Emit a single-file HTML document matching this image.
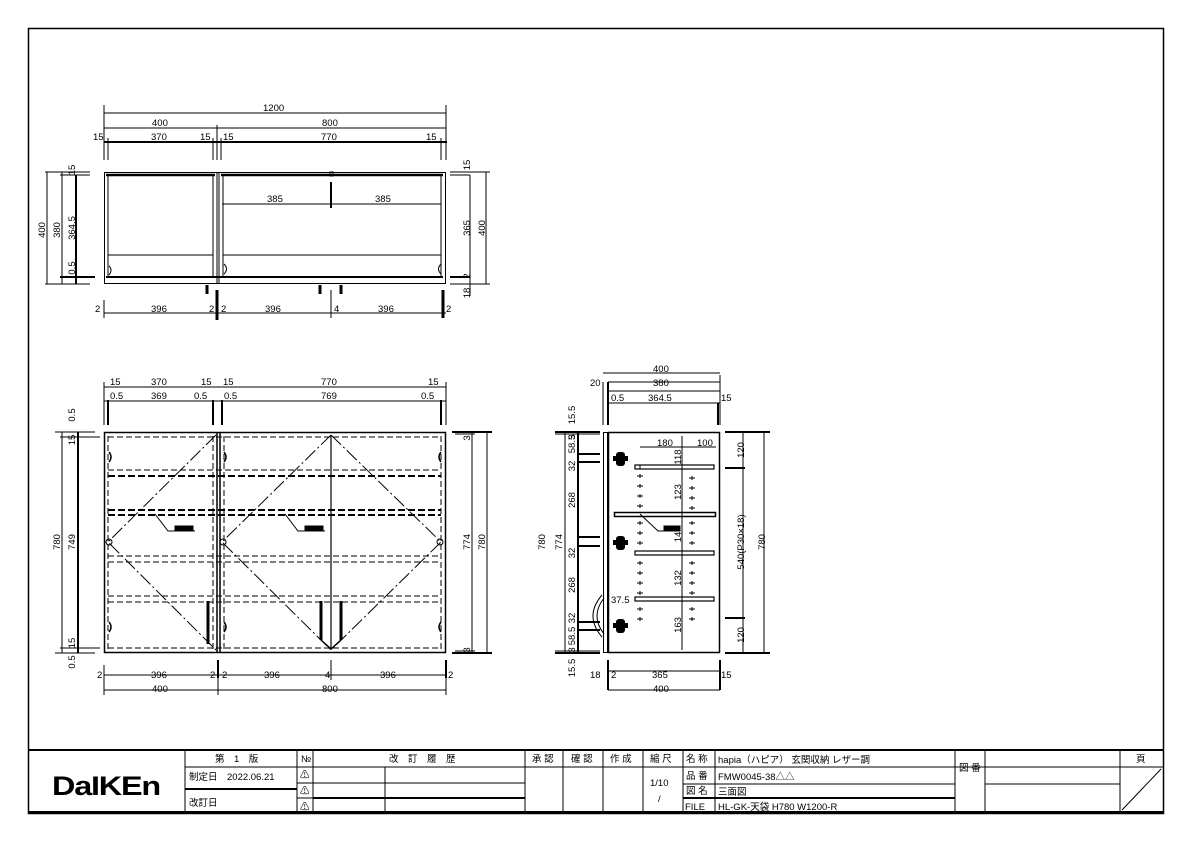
<!DOCTYPE html>
<html><head><meta charset="utf-8"><style>
html,body{margin:0;padding:0;background:#fff}
svg{display:block}
text{font-family:"Liberation Sans","Noto Sans CJK JP",sans-serif;font-size:9.5px;fill:#000}
.t{font-size:10px}
</style></head><body>
<svg width="1191" height="842" viewBox="0 0 1191 842" xmlns="http://www.w3.org/2000/svg">
<rect x="0" y="0" width="1191" height="842" fill="#fff"/>
<g stroke="#000" fill="none">
<!-- border -->
<rect x="28.5" y="28.5" width="1135" height="785" stroke-width="1.5"/>
<!-- title block -->
<line x1="28" y1="750" x2="1163" y2="750" stroke-width="2"/>
<line x1="28" y1="812" x2="1163" y2="812" stroke-width="2"/>
<g stroke-width="1">
<line x1="185" y1="750" x2="185" y2="813"/>
<line x1="297" y1="750" x2="297" y2="813"/>
<line x1="313" y1="750" x2="313" y2="813"/>
<line x1="525" y1="750" x2="525" y2="813"/>
<line x1="563" y1="750" x2="563" y2="813"/>
<line x1="603" y1="750" x2="603" y2="813"/>
<line x1="643" y1="750" x2="643" y2="813"/>
<line x1="683" y1="750" x2="683" y2="813"/>
<line x1="715" y1="750" x2="715" y2="813"/>
<line x1="955" y1="750" x2="955" y2="813"/>
<line x1="985" y1="750" x2="985" y2="813"/>
<line x1="1120" y1="750" x2="1120" y2="813"/>
<line x1="185" y1="767" x2="1163" y2="767"/>
<line x1="313" y1="783" x2="525" y2="783"/>
<line x1="683" y1="784" x2="955" y2="784"/>
<line x1="985" y1="784" x2="1120" y2="784"/>
<line x1="385" y1="767" x2="385" y2="813"/>
<line x1="1122" y1="810" x2="1161" y2="769"/>
</g>
<line x1="185" y1="789" x2="297" y2="789" stroke-width="2"/>
<line x1="297" y1="783" x2="313" y2="783"/>
<line x1="313" y1="798" x2="525" y2="798" stroke-width="2"/>
<line x1="297" y1="798" x2="313" y2="798"/>
<line x1="683" y1="798" x2="955" y2="798" stroke-width="2"/>

<!-- ============ TOP PLAN VIEW ============ -->
<g stroke-width="1">
<rect x="104.5" y="172.5" width="341" height="111"/>
<line x1="108" y1="175" x2="108" y2="277"/>
<line x1="213" y1="175" x2="213" y2="277"/>
<line x1="217" y1="172" x2="217" y2="284"/>
<line x1="219" y1="172" x2="219" y2="284"/>
<line x1="223" y1="175" x2="223" y2="277"/>
<line x1="441" y1="175" x2="441" y2="277"/>
<line x1="108" y1="255" x2="213" y2="255"/>
<line x1="223" y1="255" x2="441" y2="255"/>
<line x1="222" y1="204" x2="441" y2="204"/>
</g>
<line x1="106" y1="175" x2="215" y2="175" stroke-width="2.5"/>
<line x1="221" y1="175" x2="443" y2="175" stroke-width="2.5"/>
<line x1="106" y1="277" x2="443" y2="277" stroke-width="2"/>
<line x1="331" y1="182" x2="331" y2="208" stroke-width="2"/>
<rect x="330" y="172" width="3" height="4"/>
<path d="M109 266 q4 4 0 9 M224 264 q5 5 0 10 M441 264 q-5 5 0 10"/>
<g stroke-width="3">
<line x1="207" y1="285" x2="207" y2="294"/>
<line x1="320" y1="285" x2="320" y2="294"/>
<line x1="341" y1="285" x2="341" y2="294"/>
<line x1="217" y1="290" x2="217" y2="320"/>
<line x1="443" y1="290" x2="443" y2="318"/>
</g>
<!-- top dims -->
<g stroke-width="1">
<line x1="104" y1="113" x2="446" y2="113"/>
<line x1="104" y1="128" x2="446" y2="128"/>
<line x1="104" y1="105" x2="104" y2="160"/>
<line x1="446" y1="105" x2="446" y2="160"/>
<line x1="217" y1="125" x2="217" y2="160"/>
<line x1="108" y1="138" x2="108" y2="160"/>
<line x1="213" y1="138" x2="213" y2="160"/>
<line x1="221" y1="138" x2="221" y2="160"/>
<line x1="441" y1="138" x2="441" y2="160"/>
<line x1="104" y1="313" x2="446" y2="313"/>
<line x1="104" y1="300" x2="104" y2="318"/>
<line x1="331" y1="290" x2="331" y2="318"/>
<!-- left dims -->
<line x1="47" y1="172" x2="47" y2="284"/>
<line x1="62" y1="172" x2="62" y2="284"/>
<line x1="45" y1="172" x2="90" y2="172"/>
<line x1="45" y1="284" x2="90" y2="284"/>
<line x1="450" y1="172" x2="490" y2="172"/>
<line x1="450" y1="284" x2="490" y2="284"/>
<line x1="470" y1="175" x2="470" y2="296"/>
<line x1="486" y1="172" x2="486" y2="284"/>
</g>
<line x1="104" y1="142" x2="447" y2="142" stroke-width="2"/>
<line x1="76" y1="175" x2="76" y2="284" stroke-width="2"/>
<line x1="60" y1="175" x2="90" y2="175" stroke-width="1"/>
<line x1="60" y1="277" x2="95" y2="277" stroke-width="2"/>
<line x1="450" y1="175" x2="470" y2="175" stroke-width="1"/>
<line x1="450" y1="277" x2="470" y2="277" stroke-width="2"/>

<!-- ============ FRONT VIEW ============ -->
<rect x="104.5" y="432.5" width="341" height="220" stroke-width="1.5"/>
<line x1="217" y1="432" x2="217" y2="653" stroke-width="1.5"/>
<line x1="220" y1="432" x2="220" y2="653" stroke-width="1.5"/>
<line x1="331" y1="436" x2="331" y2="650" stroke-width="1.2"/>
<g stroke-width="1" stroke-dasharray="6,3">
<line x1="108" y1="436" x2="108" y2="650"/>
<line x1="213" y1="436" x2="213" y2="650"/>
<line x1="224" y1="436" x2="224" y2="650"/>
<line x1="441" y1="436" x2="441" y2="650"/>
<line x1="108" y1="437" x2="441" y2="437"/>
<line x1="108" y1="648" x2="441" y2="648"/>
<line x1="108" y1="470" x2="441" y2="470"/>
<line x1="108" y1="556" x2="441" y2="556"/>
<line x1="108" y1="562" x2="441" y2="562"/>
<line x1="108" y1="596" x2="441" y2="596"/>
<line x1="108" y1="602" x2="441" y2="602"/>
</g>
<g stroke-width="2" stroke-dasharray="7,3">
<line x1="108" y1="476" x2="441" y2="476"/>
<line x1="108" y1="510" x2="441" y2="510"/>
<line x1="108" y1="515" x2="441" y2="515"/>
</g>
<g stroke-width="1" stroke-dasharray="14,3,2,3">
<polyline points="216,435 108,542 216,650"/>
<polyline points="331,435 222,542 331,650"/>
<polyline points="331,435 441,542 331,650"/>
</g>
<circle cx="109" cy="542" r="3"/><circle cx="223" cy="542" r="3"/><circle cx="440" cy="542" r="3"/>
<g stroke-width="3">
<line x1="208" y1="601" x2="208" y2="644"/>
<line x1="321" y1="601" x2="321" y2="640"/>
<line x1="341" y1="601" x2="341" y2="640"/>
</g>
<path d="M321 640 l10 9 l10 -9" stroke-width="1.5"/>
<path d="M109 452 q4 5 0 10 M109 622 q4 5 0 10 M224 452 q4 5 0 10 M224 622 q4 5 0 10 M441 452 q-4 5 0 10 M441 622 q-4 5 0 10" stroke-width="1.5"/>
<polyline points="155,514 168,531 195,531" stroke-width="1"/>
<rect x="175" y="526" width="18" height="5" fill="#000"/>
<polyline points="285,514 298,531 325,531" stroke-width="1"/>
<rect x="305" y="526" width="18" height="5" fill="#000"/>
<!-- front dims -->
<g stroke-width="1">
<line x1="104" y1="387" x2="446" y2="387"/>
<line x1="104" y1="401" x2="446" y2="401"/>
<line x1="104" y1="382" x2="104" y2="425"/>
<line x1="446" y1="382" x2="446" y2="425"/>
<line x1="104" y1="675" x2="446" y2="675"/>
<line x1="104" y1="690" x2="446" y2="690"/>
<line x1="104" y1="665" x2="104" y2="695"/>
<line x1="446" y1="665" x2="446" y2="695"/>
<line x1="218" y1="665" x2="218" y2="695"/>
<line x1="331" y1="660" x2="331" y2="680"/>
<line x1="62" y1="432" x2="62" y2="653"/>
<line x1="78" y1="432" x2="78" y2="653"/>
<line x1="55" y1="432" x2="95" y2="432"/>
<line x1="55" y1="653" x2="95" y2="653"/>
<line x1="60" y1="437" x2="100" y2="437"/>
<line x1="60" y1="648" x2="100" y2="648"/>
<line x1="472" y1="432" x2="472" y2="653"/>
<line x1="487" y1="432" x2="487" y2="653"/>
<line x1="455" y1="434" x2="475" y2="434"/>
<line x1="455" y1="651" x2="475" y2="651"/>
</g>
<g stroke-width="2">
<line x1="108" y1="400" x2="108" y2="425"/>
<line x1="213" y1="400" x2="213" y2="425"/>
<line x1="222" y1="400" x2="222" y2="425"/>
<line x1="441" y1="400" x2="441" y2="425"/>
<line x1="78" y1="432" x2="78" y2="653"/>
<line x1="452" y1="432" x2="492" y2="432"/>
<line x1="452" y1="653" x2="492" y2="653"/>
<line x1="218" y1="660" x2="218" y2="678"/>
<line x1="446" y1="660" x2="446" y2="678"/>
</g>

<!-- ============ SIDE VIEW ============ -->
<rect x="603.5" y="432.5" width="4" height="220" stroke-width="1"/>
<rect x="608.5" y="432.5" width="111" height="220" stroke-width="1.5"/>
<g stroke-width="1">
<line x1="682" y1="436" x2="682" y2="650"/>
<line x1="640" y1="447" x2="716" y2="447"/>
<line x1="603" y1="382" x2="603" y2="425"/>
<line x1="720" y1="375" x2="720" y2="425"/>
<line x1="608" y1="382" x2="720" y2="382"/>
<line x1="608" y1="391" x2="720" y2="391"/>
<line x1="608" y1="403" x2="720" y2="403"/>
<line x1="608" y1="671" x2="720" y2="671"/>
<line x1="608" y1="690" x2="720" y2="690"/>
<line x1="603" y1="373" x2="720" y2="373"/>
<line x1="743" y1="432" x2="743" y2="653"/>
<line x1="764" y1="432" x2="764" y2="653"/>
<line x1="565" y1="432" x2="565" y2="653"/>
<line x1="578" y1="432" x2="578" y2="653"/>
<line x1="555" y1="434" x2="600" y2="434"/>
<line x1="555" y1="651" x2="600" y2="651"/>
<path d="M604 598 q-14 18 0 36" />
<path d="M602 595 q-18 21 0 42" />
</g>
<g stroke-width="2">
<line x1="555" y1="432" x2="600" y2="432"/>
<line x1="555" y1="653" x2="600" y2="653"/>
<line x1="725" y1="432" x2="770" y2="432"/>
<line x1="725" y1="653" x2="770" y2="653"/>
<line x1="725" y1="468" x2="745" y2="468"/>
<line x1="725" y1="618" x2="745" y2="618"/>
<line x1="578" y1="432" x2="578" y2="653"/>
<line x1="578" y1="454" x2="600" y2="454"/>
<line x1="578" y1="462" x2="600" y2="462"/>
<line x1="578" y1="537" x2="600" y2="537"/>
<line x1="578" y1="546" x2="600" y2="546"/>
<line x1="578" y1="622" x2="600" y2="622"/>
<line x1="578" y1="630" x2="600" y2="630"/>
<line x1="608" y1="382" x2="608" y2="425"/>
<line x1="718" y1="403" x2="718" y2="425"/>
<line x1="608" y1="660" x2="608" y2="690"/>
<line x1="720" y1="660" x2="720" y2="690"/>
</g>
<g stroke-width="1.2">
<rect x="635" y="465" width="79" height="4"/>
<rect x="635" y="551" width="79" height="4"/>
<rect x="635" y="597" width="79" height="4"/>
</g>
<rect x="614.5" y="512.5" width="101" height="4" stroke-width="1.5"/>
<polyline points="640,514 658,531 680,531" stroke-width="1"/>
<rect x="664" y="526" width="16" height="5" fill="#000"/>
<g fill="#000" stroke="none">
<rect x="616" y="452" width="9" height="14" rx="3"/><rect x="613" y="456" width="15" height="5"/>
<rect x="616" y="536" width="9" height="14" rx="3"/><rect x="613" y="540" width="15" height="5"/>
<rect x="616" y="619" width="9" height="14" rx="3"/><rect x="613" y="623" width="15" height="5"/>
</g>
<g stroke-width="1">
<path d="M640 465 v4 M640 474 v4 M637 476 h6 M640 484 v4 M637 486 h6 M640 494 v4 M637 496 h6 M640 504 v4 M637 506 h6 M640 521 v4 M637 523 h6 M640 531 v4 M637 533 h6 M640 541 v4 M637 543 h6 M640 561 v4 M637 563 h6 M640 571 v4 M637 573 h6 M640 581 v4 M637 583 h6 M640 591 v4 M637 593 h6 M640 607 v4 M637 609 h6 M640 617 v4 M637 619 h6"/>
<path d="M692 476 v4 M689 478 h6 M692 486 v4 M689 488 h6 M692 496 v4 M689 498 h6 M692 506 v4 M689 508 h6 M692 521 v4 M689 523 h6 M692 531 v4 M689 533 h6 M692 541 v4 M689 543 h6 M692 561 v4 M689 563 h6 M692 571 v4 M689 573 h6 M692 581 v4 M689 583 h6 M692 591 v4 M689 593 h6 M692 607 v4 M689 609 h6 M692 617 v4 M689 619 h6"/>
</g>
</g>

<!-- ============ TEXT ============ -->
<g>
<!-- top view -->
<text x="263" y="111">1200</text>
<text x="152" y="126">400</text>
<text x="322" y="126">800</text>
<text x="93" y="140">15</text><text x="151" y="140">370</text><text x="200" y="140">15</text>
<text x="223" y="140">15</text><text x="321" y="140">770</text><text x="426" y="140">15</text>
<text x="267" y="202">385</text><text x="375" y="202">385</text>
<text x="95" y="312">2</text><text x="151" y="312">396</text><text x="209" y="312">2</text>
<text x="221" y="312">2</text><text x="265" y="312">396</text><text x="334" y="312">4</text>
<text x="378" y="312">396</text><text x="446" y="312">2</text>
<text transform="translate(45,230) rotate(-90)" text-anchor="middle">400</text>
<text transform="translate(60,230) rotate(-90)" text-anchor="middle">380</text>
<text transform="translate(75,228) rotate(-90)" text-anchor="middle">364.5</text>
<text transform="translate(75,170) rotate(-90)" text-anchor="middle">15</text>
<text transform="translate(75,268) rotate(-90)" text-anchor="middle">0.5</text>
<text transform="translate(470,228) rotate(-90)" text-anchor="middle">365</text>
<text transform="translate(485,228) rotate(-90)" text-anchor="middle">400</text>
<text transform="translate(470,165) rotate(-90)" text-anchor="middle">15</text>
<text transform="translate(470,276) rotate(-90)" text-anchor="middle">2</text>
<text transform="translate(470,293) rotate(-90)" text-anchor="middle">18</text>
<!-- front view -->
<text x="110" y="385">15</text><text x="151" y="385">370</text><text x="201" y="385">15</text>
<text x="223" y="385">15</text><text x="321" y="385">770</text><text x="428" y="385">15</text>
<text x="110" y="399">0.5</text><text x="151" y="399">369</text><text x="194" y="399">0.5</text>
<text x="224" y="399">0.5</text><text x="321" y="399">769</text><text x="421" y="399">0.5</text>
<text x="97" y="678">2</text><text x="151" y="678">396</text><text x="210" y="678">2</text>
<text x="222" y="678">2</text><text x="264" y="678">396</text><text x="325" y="678">4</text>
<text x="380" y="678">396</text><text x="448" y="678">2</text>
<text x="152" y="692">400</text><text x="322" y="692">800</text>
<text transform="translate(60,542) rotate(-90)" text-anchor="middle">780</text>
<text transform="translate(75,542) rotate(-90)" text-anchor="middle">749</text>
<text transform="translate(75,440) rotate(-90)" text-anchor="middle">15</text>
<text transform="translate(75,415) rotate(-90)" text-anchor="middle">0.5</text>
<text transform="translate(75,643) rotate(-90)" text-anchor="middle">15</text>
<text transform="translate(75,662) rotate(-90)" text-anchor="middle">0.5</text>
<text transform="translate(470,542) rotate(-90)" text-anchor="middle">774</text>
<text transform="translate(485,542) rotate(-90)" text-anchor="middle">780</text>
<text transform="translate(470,438) rotate(-90)" text-anchor="middle">3</text>
<text transform="translate(470,650) rotate(-90)" text-anchor="middle">3</text>
<!-- side view -->
<text x="653" y="372">400</text>
<text x="590" y="386">20</text><text x="653" y="386">380</text>
<text x="611" y="401">0.5</text><text x="648" y="401">364.5</text><text x="721" y="401">15</text>
<text x="657" y="446">180</text><text x="697" y="446">100</text>
<text x="611" y="603" font-size="9">37.5</text>
<text x="590" y="678">18</text><text x="611" y="678">2</text><text x="652" y="678">365</text><text x="721" y="678">15</text>
<text x="653" y="692">400</text>
<text transform="translate(545,542) rotate(-90)" text-anchor="middle">780</text>
<text transform="translate(562,542) rotate(-90)" text-anchor="middle">774</text>
<text transform="translate(575,437) rotate(-90)" text-anchor="middle">3</text>
<text transform="translate(575,415) rotate(-90)" text-anchor="middle">15.5</text>
<text transform="translate(575,444) rotate(-90)" text-anchor="middle" font-size="8">58.5</text>
<text transform="translate(575,466) rotate(-90)" text-anchor="middle">32</text>
<text transform="translate(575,500) rotate(-90)" text-anchor="middle">268</text>
<text transform="translate(575,553) rotate(-90)" text-anchor="middle">32</text>
<text transform="translate(575,585) rotate(-90)" text-anchor="middle">268</text>
<text transform="translate(575,618) rotate(-90)" text-anchor="middle">32</text>
<text transform="translate(575,636) rotate(-90)" text-anchor="middle" font-size="8">58.5</text>
<text transform="translate(575,650) rotate(-90)" text-anchor="middle">3</text>
<text transform="translate(575,668) rotate(-90)" text-anchor="middle">15.5</text>
<text transform="translate(681,457) rotate(-90)" text-anchor="middle">118</text>
<text transform="translate(681,492) rotate(-90)" text-anchor="middle">123</text>
<text transform="translate(681,537) rotate(-90)" text-anchor="middle">14</text>
<text transform="translate(681,578) rotate(-90)" text-anchor="middle">132</text>
<text transform="translate(681,625) rotate(-90)" text-anchor="middle">163</text>
<text transform="translate(744,450) rotate(-90)" text-anchor="middle">120</text>
<text transform="translate(744,542) rotate(-90)" text-anchor="middle">540(P30×18)</text>
<text transform="translate(744,635) rotate(-90)" text-anchor="middle">120</text>
<text transform="translate(765,542) rotate(-90)" text-anchor="middle">780</text>
<!-- title block -->
<text x="52" y="795" style="font-size:27px;font-weight:bold;letter-spacing:-1px" textLength="108" lengthAdjust="spacingAndGlyphs">DaIKEn</text>
<text x="215" y="762" font-size="10">第　1　版</text>
<text x="301" y="762" font-size="8">№</text>
<text x="389" y="762" font-size="10">改　訂　履　歴</text>
<text x="532" y="762" font-size="10">承 認</text>
<text x="571" y="762" font-size="10">確 認</text>
<text x="610" y="762" font-size="10">作 成</text>
<text x="650" y="762" font-size="10">縮 尺</text>
<text x="686" y="762" font-size="10">名 称</text>
<text x="718" y="763" font-size="11">hapia（ハピア） 玄関収納 レザー調</text>
<text x="189" y="780" font-size="9">制定日　2022.06.21</text>
<text x="189" y="806" font-size="9">改訂日</text>
<text x="300" y="778" font-size="10">⚠</text>
<text x="300" y="794" font-size="10">⚠</text>
<text x="300" y="810" font-size="10">⚠</text>
<text x="650" y="786" font-size="11">1/10</text>
<text x="658" y="802" font-size="11">/</text>
<text x="686" y="779" font-size="10">品 番</text>
<text x="718" y="780" font-size="12">FMW0045-38△△</text>
<text x="686" y="794" font-size="10">図 名</text>
<text x="718" y="795" font-size="10">三面図</text>
<text x="685" y="810" font-size="11">FILE</text>
<text x="718" y="810" font-size="11">HL-GK-天袋 H780 W1200-R</text>
<text x="959" y="771" font-size="10">図 番</text>
<text x="1136" y="762" font-size="10">頁</text>
</g>
</svg>
</body></html>
